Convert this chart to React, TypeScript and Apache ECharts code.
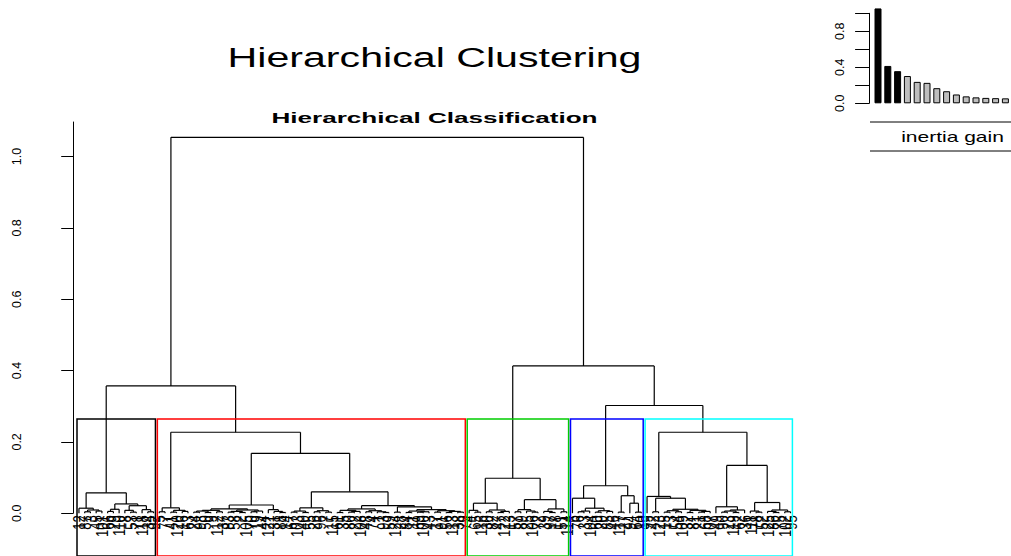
import React, { useEffect, useRef } from "react";
import * as echarts from "echarts";

// ---------- texts ----------
const CHART_TITLE = "Hierarchical Clustering";
const TREE_TITLE = "Hierarchical Classification";
const BAR_TITLE = "inertia gain";

// ---------- axis ticks ----------
const Y_TICKS = [0, 0.2, 0.4, 0.6, 0.8, 1.0];
const BAR_TICKS = [0, 0.2, 0.4, 0.6, 0.8, 1.0];
const BAR_TICK_LABELS = [0, 0.4, 0.8];

// ---------- dendrogram (leaf labels, merge heights after ")") ----------
const BLACK_TREE =
  "((12,((87,3)0.004,(45,101)0.006)0.009)0.014,(((66,29)0.005,110)0.011,((8,(53,71)0.003)0.008,(118,(34,92)0.004)0.01)0.021)0.026)0.057";
const RED_A = "((5,77)0.004,((41,120)0.003,(16,63)0.005)0.008)0.015";
const RED_B1 =
  "(((((24,98)0.003,(50,9)0.002)0.006,(112,37)0.004)0.008,(((83,58)0.003,(2,105)0.002)0.005,((70,19)0.004,44)0.006)0.009)0.012,(121,(31,(88,14)0.002)0.005)0.01)0.023";
const RED_B2A = "(((67,103)0.003,(40,55)0.002)0.006,((26,96)0.004,(7,115)0.003)0.007)0.015";
const RED_B2B1 = "(((61,35)0.002,((80,22)0.003,108)0.005)0.008,((48,74)0.004,(1,(93,59)0.002)0.004)0.007)0.012";
const RED_B2B2 =
  "((124,28)0.003,(((84,11)0.002,((69,100)0.003,43)0.004)0.006,((17,91)0.003,((56,113)0.002,(38,79)0.003)0.005)0.007)0.01)0.018";
const RED_HEIGHTS = [0.021, 0.06, 0.168, 0.227]; // B2B, B2, B, red root
const GREEN_G1 = "((4,(65,116)0.003)0.008,((30,82)0.004,((47,122)0.002,13)0.005)0.009)0.028";
const GREEN_G2 = "(((57,89)0.004,(25,(106,72)0.003)0.006)0.01,((39,(97,18)0.002)0.005,(51,114)0.004)0.012)0.038";
const GREEN_HEIGHT = 0.098;
const BLUE_1 = "(6,(((76,33)0.004,104)0.006,((60,20)0.003,(85,46)0.005)0.007)0.014)0.042";
const BLUE_2 = "((117,27)0.003,(94,(64,10)0.003)0.028)0.049";
const BLUE_HEIGHT = 0.077;
const CYAN_1 =
  "(99,((42,123)0.004,(((15,73)0.003,(54,109)0.004)0.007,((32,81)0.002,((21,68)0.003,107)0.005)0.008)0.011)0.042)0.047";
const CYAN_2 =
  "((49,(((90,23)0.003,(119,62)0.002)0.006,36)0.009)0.018,((111,(78,52)0.003)0.006,((125,(86,75)0.002)0.005,(102,95)0.004)0.009)0.03)0.134";
const CYAN_HEIGHT = 0.227;
const TOP_HEIGHTS = [0.357, 0.302, 0.413, 1.054]; // black+red, blue+cyan, green+(blue+cyan), root
const N_CLUSTERS = 5;
const CLUSTER_COLORS = ["#000000", "#FF0000", "#00CD00", "#0000FF", "#00FFFF"];

// ---------- inertia gain barplot ----------
const INERTIA_GAIN = [1.054, 0.415, 0.357, 0.303, 0.238, 0.227, 0.168, 0.134, 0.098, 0.077, 0.066, 0.06, 0.057, 0.055];
const BAR_BLACK_COUNT = 3;

const FONT = '"Liberation Sans", Arial, Helvetica, sans-serif';

type TNode = { label?: string; h: number; children?: TNode[]; x?: number };

function parseTree(src: string): TNode {
  const s = src.replace(/\s+/g, "");
  let i = 0;
  function node(): TNode {
    if (s[i] === "(") {
      i++;
      const a = node();
      i++; // ,
      const b = node();
      i++; // )
      const j = i;
      while (i < s.length && /[0-9.]/.test(s[i])) i++;
      return { h: parseFloat(s.slice(j, i)), children: [a, b] };
    }
    const j = i;
    while (i < s.length && s[i] !== "," && s[i] !== ")") i++;
    return { label: s.slice(j, i), h: 0 };
  }
  return node();
}

const join = (a: string, b: string, h: number) => `(${a},${b})${h}`;

function buildOption() {
  const red = join(
    RED_A,
    join(RED_B1, join(RED_B2A, join(RED_B2B1, RED_B2B2, RED_HEIGHTS[0]), RED_HEIGHTS[1]), RED_HEIGHTS[2]),
    RED_HEIGHTS[3]
  );
  const green = join(GREEN_G1, GREEN_G2, GREEN_HEIGHT);
  const blue = join(BLUE_1, BLUE_2, BLUE_HEIGHT);
  const cyan = join(CYAN_1, CYAN_2, CYAN_HEIGHT);
  const clusters = [BLACK_TREE, red, green, blue, cyan];
  const full = join(
    join(BLACK_TREE, red, TOP_HEIGHTS[0]),
    join(green, join(blue, cyan, TOP_HEIGHTS[1]), TOP_HEIGHTS[2]),
    TOP_HEIGHTS[3]
  );
  const root = parseTree(full);

  const leaves: TNode[] = [];
  const segs: number[][] = [];
  const heights: number[] = [];
  const walk = (n: TNode) => {
    if (!n.children) {
      leaves.push(n);
      n.x = leaves.length;
      return;
    }
    n.children.forEach(walk);
    const [a, b] = n.children;
    n.x = ((a.x as number) + (b.x as number)) / 2;
    heights.push(n.h);
    segs.push([a.x as number, a.h, a.x as number, n.h]);
    segs.push([b.x as number, b.h, b.x as number, n.h]);
    segs.push([a.x as number, n.h, b.x as number, n.h]);
  };
  walk(root);

  const sorted = [...heights].sort((p, q) => q - p);
  const cut = (sorted[N_CLUSTERS - 2] + sorted[N_CLUSTERS - 1]) / 2;
  const boxes: number[][] = [];
  let m = 0;
  clusters.forEach((c, k) => {
    const size = c.replace(/[^,]/g, "").length + 1;
    boxes.push([m + 0.66, m + size + 0.33, cut, k]);
    m += size;
  });
  const n = leaves.length;
  const labelData = leaves.map((l) => [l.x as number, 0]);
  const labels = leaves.map((l) => l.label as string);

  const BOX_BOTTOM = -0.12;

  return {
    animation: false,
    backgroundColor: "#ffffff",
    textStyle: { fontFamily: FONT },
    grid: [
      { left: 48, top: 122, width: 771.2, height: 391.2, containLabel: false },
      { left: 873.1, top: 13.3, width: 137.2, height: 90, containLabel: false },
    ],
    xAxis: [
      { gridIndex: 0, type: "value", min: 1 - 5.394, max: n + 5, show: false },
      {
        gridIndex: 1,
        type: "category",
        data: INERTIA_GAIN.map((_, i) => String(i + 1)),
        show: false,
        boundaryGap: true,
      },
    ],
    yAxis: [
      {
        gridIndex: 0,
        type: "value",
        min: 0,
        max: 1.097,
        axisLine: { show: true, lineStyle: { color: "#000", width: 1 } },
        axisTick: { show: true, length: 12, lineStyle: { color: "#000", width: 1 }, customValues: Y_TICKS },
        axisLabel: {
          show: true,
          rotate: 90,
          margin: 25,
          fontSize: 12.5,
          color: "#000",
          fontFamily: FONT,
          customValues: Y_TICKS,
          formatter: (v: number) => v.toFixed(1),
        },
        splitLine: { show: false },
      },
      {
        gridIndex: 1,
        type: "value",
        min: 0,
        max: 1.0,
        offset: 4,
        axisLine: { show: true, lineStyle: { color: "#000", width: 1 } },
        axisTick: { show: true, length: 14, lineStyle: { color: "#000", width: 1 }, customValues: BAR_TICKS },
        axisLabel: {
          show: true,
          rotate: 90,
          margin: 23,
          fontSize: 12.5,
          color: "#000",
          fontFamily: FONT,
          customValues: BAR_TICK_LABELS,
          formatter: (v: number) => v.toFixed(1),
        },
        splitLine: { show: false },
      },
    ],
    graphic: [
      {
        type: "text",
        x: 434.5,
        y: 57.5,
        scaleX: 1.47,
        style: { text: CHART_TITLE, font: `28px ${FONT}`, fill: "#000", align: "center", verticalAlign: "middle" },
      },
      {
        type: "text",
        x: 434.5,
        y: 118,
        scaleX: 1.74,
        style: { text: TREE_TITLE, font: `bold 15px ${FONT}`, fill: "#000", align: "center", verticalAlign: "middle" },
      },
      {
        type: "line",
        shape: { x1: 870, y1: 122, x2: 1011, y2: 122 },
        style: { stroke: "#000", lineWidth: 1 },
      },
      {
        type: "line",
        shape: { x1: 870, y1: 151, x2: 1011, y2: 151 },
        style: { stroke: "#000", lineWidth: 1 },
      },
      {
        type: "text",
        x: 952.5,
        y: 137.5,
        scaleX: 1.5,
        style: { text: BAR_TITLE, font: `14px ${FONT}`, fill: "#000", align: "center", verticalAlign: "middle" },
      },
    ],
    series: [
      {
        type: "custom",
        xAxisIndex: 0,
        yAxisIndex: 0,
        clip: false,
        silent: true,
        encode: { x: [0, 2], y: [1, 3] },
        data: segs,
        renderItem: (_p: any, api: any) => {
          const a = api.coord([api.value(0), api.value(1)]);
          const b = api.coord([api.value(2), api.value(3)]);
          return {
            type: "line",
            shape: { x1: a[0], y1: a[1], x2: b[0], y2: b[1] },
            style: { stroke: "#000", lineWidth: 1.2 },
          };
        },
      },
      {
        type: "custom",
        xAxisIndex: 0,
        yAxisIndex: 0,
        clip: false,
        silent: true,
        encode: { x: 0, y: 1 },
        data: labelData,
        renderItem: (p: any, api: any) => {
          const a = api.coord([api.value(0), api.value(1)]);
          return {
            type: "text",
            x: a[0],
            y: a[1] + 2,
            rotation: Math.PI / 2,
            scaleY: 1.3,
            style: {
              text: labels[p.dataIndex],
              font: `13px ${FONT}`,
              fill: "#000",
              align: "right",
              verticalAlign: "middle",
            },
          };
        },
      },
      {
        type: "custom",
        xAxisIndex: 0,
        yAxisIndex: 0,
        clip: false,
        silent: true,
        encode: { x: [0, 1], y: 2 },
        data: boxes,
        renderItem: (_p: any, api: any) => {
          const a = api.coord([api.value(0), api.value(2)]);
          const b = api.coord([api.value(1), BOX_BOTTOM]);
          return {
            type: "rect",
            shape: { x: a[0], y: a[1], width: b[0] - a[0], height: b[1] - a[1] },
            style: { fill: "none", stroke: CLUSTER_COLORS[api.value(3)], lineWidth: 1.5 },
          };
        },
      },
      {
        type: "bar",
        xAxisIndex: 1,
        yAxisIndex: 1,
        clip: false,
        silent: true,
        barWidth: 7,
        data: INERTIA_GAIN.map((v, i) => ({
          value: v,
          itemStyle: {
            color: i < BAR_BLACK_COUNT ? "#000000" : "#BEBEBE",
            borderColor: "#000",
            borderWidth: 1,
          },
        })),
      },
    ],
  };
}

export default function App() {
  const ref = useRef<HTMLDivElement>(null);
  useEffect(() => {
    const chart = echarts.init(ref.current as HTMLDivElement, null, { renderer: "svg" });
    chart.setOption(buildOption() as any);
    return () => chart.dispose();
  }, []);
  return (
    <div
      ref={ref}
      style={{ position: "absolute", left: 0, top: 0, width: 1011, height: 556, background: "#fff" }}
    />
  );
}
